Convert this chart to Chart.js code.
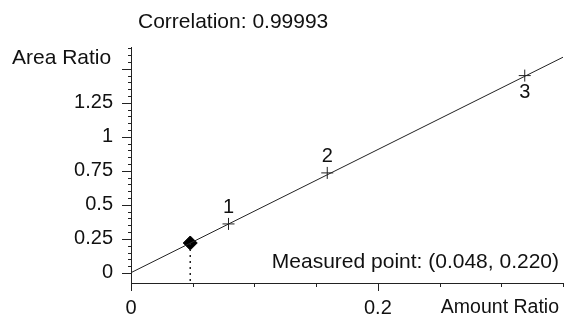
<!DOCTYPE html>
<html>
<head>
<meta charset="utf-8">
<script src="https://cdn.jsdelivr.net/npm/chart.js@4/dist/chart.umd.min.js"></script>
<style>
  html, body { margin: 0; padding: 0; background: #fff; }
</style>
</head>
<body>
<canvas id="calChart" width="571" height="320"></canvas>
<script>
// calibration standards
var stdLabels = ['1', '2', '3'];
var stdX = [0.079, 0.159, 0.319];
var stdY = [0.36, 0.735, 1.45];

// measured sample
var measX = 0.048;
var measY = 0.220;

// regression line ends
var fitX = [0, 0.35];
var fitY = [0.002, 1.585];

var xTicks = [0, 0.2];
var yTicks = [0, 0.25, 0.5, 0.75, 1, 1.25];
var correlation = '0.99993';

var X_MIN = 0, X_MAX = 0.35;
var Y_MIN = -0.074, Y_MAX = 1.66;
var FONT = "'Liberation Sans', Arial, sans-serif";

var stdPoints = stdX.map(function (x, i) { return { x: x, y: stdY[i] }; });
var fitPoints = fitX.map(function (x, i) { return { x: x, y: fitY[i] }; });

var decorations = {
  id: 'decorations',
  afterDraw: function (chart) {
    var ctx = chart.ctx;
    var xs = chart.scales.x, ys = chart.scales.y;
    var a = chart.chartArea;
    ctx.save();
    ctx.strokeStyle = '#222';
    ctx.lineWidth = 1;

    // axis lines
    ctx.beginPath();
    ctx.moveTo(a.left + 0.5, a.top);
    ctx.lineTo(a.left + 0.5, a.bottom + 1);
    ctx.moveTo(a.left, a.bottom + 0.5);
    ctx.lineTo(a.right, a.bottom + 0.5);
    ctx.stroke();

    // y ticks (every 0.05, longer at 0.25)
    ctx.beginPath();
    for (var k = 0; k <= 33; k++) {
      var v = k * 0.05;
      var py = Math.round(ys.getPixelForValue(v)) + 0.5;
      var len = (k % 5 === 0) ? 9 : 3;
      ctx.moveTo(a.left - len, py);
      ctx.lineTo(a.left, py);
    }
    // x ticks (every 0.05, longer at 0.2)
    for (var j = 0; j <= 7; j++) {
      var vx = j * 0.05;
      var px = Math.round(xs.getPixelForValue(vx)) + 0.5;
      var l2 = (j % 4 === 0) ? 8 : 4;
      ctx.moveTo(px, a.bottom);
      ctx.lineTo(px, a.bottom + l2);
    }
    ctx.stroke();

    // texts
    ctx.fillStyle = '#111';
    ctx.font = '21px ' + FONT;
    ctx.textBaseline = 'middle';
    ctx.textAlign = 'left';
    ctx.fillText('Correlation: ' + correlation, 138, 22);
    ctx.fillText('Area Ratio', 12, 58);
    ctx.textAlign = 'right';
    ctx.fillText('Measured point: (' + measX.toFixed(3) + ', ' + measY.toFixed(3) + ')', 559, 262);
    ctx.font = '19.5px ' + FONT;
    ctx.fillText('Amount Ratio', 559, 308);

    // standard labels
    ctx.font = '20px ' + FONT;
    ctx.textAlign = 'center';
    stdLabels.forEach(function (lab, i) {
      var px = xs.getPixelForValue(stdX[i]);
      var py = ys.getPixelForValue(stdY[i]);
      var dy = (i === 2) ? 17 : -16;
      ctx.fillText(lab, px, py + dy);
    });
    ctx.restore();
  }
};

new Chart(document.getElementById('calChart').getContext('2d'), {
  type: 'scatter',
  data: {
    datasets: [{
      label: 'fit',
      type: 'line',
      data: fitPoints,
      borderColor: '#222',
      borderWidth: 1,
      pointRadius: 0,
      fill: false
    }, {
      label: 'drop',
      type: 'line',
      data: [{ x: measX, y: measY }, { x: measX, y: Y_MIN }],
      borderColor: '#222',
      borderWidth: 1.5,
      borderDash: [2, 4],
      pointRadius: 0,
      fill: false
    }, {
      label: 'standards',
      data: stdPoints,
      pointStyle: 'cross',
      pointRadius: 6,
      borderColor: '#222',
      borderWidth: 1
    }, {
      label: 'measured',
      data: [{ x: measX, y: measY }],
      pointStyle: 'rectRot',
      pointRadius: 7,
      backgroundColor: '#000',
      borderColor: '#000'
    }]
  },
  options: {
    responsive: false,
    animation: false,
    layout: { padding: { top: 47, right: 3, left: 0, bottom: 0 } },
    plugins: { legend: { display: false }, tooltip: { enabled: false } },
    scales: {
      x: {
        type: 'linear',
        min: X_MIN,
        max: X_MAX,
        grid: { display: false, drawTicks: false },
        border: { display: false },
        afterBuildTicks: function (s) { s.ticks = xTicks.map(function (v) { return { value: v }; }); },
        afterFit: function (s) { s.height = 37; },
        ticks: {
          padding: 13,
          color: '#111',
          maxRotation: 0,
          font: { family: FONT, size: 20 },
          callback: function (v) { return String(v); }
        }
      },
      y: {
        type: 'linear',
        min: Y_MIN,
        max: Y_MAX,
        grid: { display: false, drawTicks: false },
        border: { display: false },
        afterBuildTicks: function (s) { s.ticks = yTicks.map(function (v) { return { value: v }; }); },
        afterFit: function (s) { s.width = 131; },
        ticks: {
          padding: 18,
          color: '#111',
          font: { family: FONT, size: 20 },
          callback: function (v) { return String(v); }
        }
      }
    }
  },
  plugins: [decorations]
});
</script>
</body>
</html>
